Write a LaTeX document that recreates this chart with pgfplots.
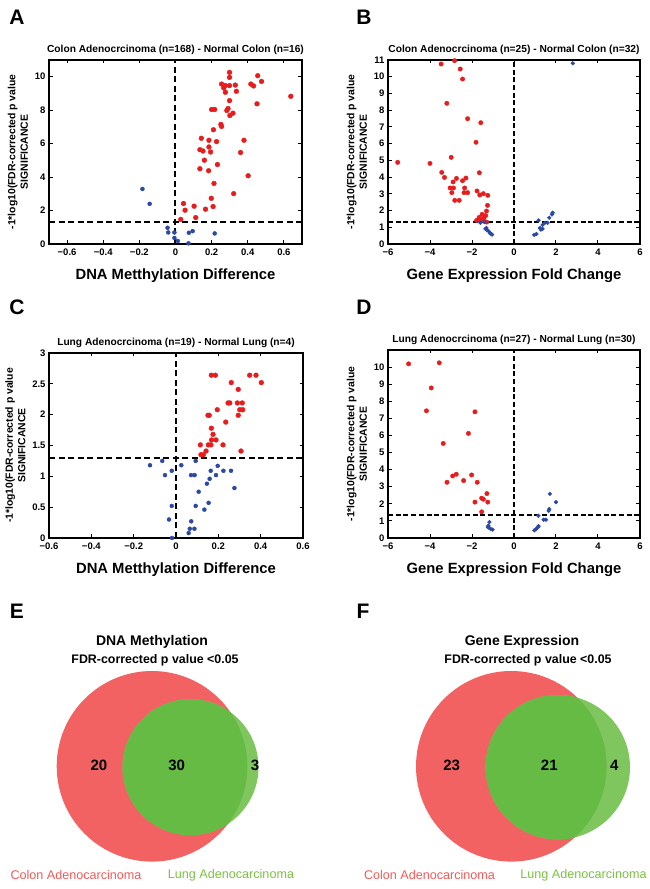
\documentclass[border=0pt]{standalone}
\usepackage{fontspec}
\setmainfont{Liberation Sans}
\usepackage{pgfplots}
\pgfplotsset{compat=1.18}
\definecolor{pred}{RGB}{232,28,28}
\definecolor{pblue}{RGB}{44,72,165}
\definecolor{vred}{RGB}{242,98,98}
\definecolor{vgreen}{RGB}{102,187,68}
\definecolor{vlgreen}{RGB}{128,198,94}
\definecolor{tred}{RGB}{240,90,90}
\definecolor{tgreen}{RGB}{122,193,67}
\pgfplotsset{volc/.style={
  scale only axis, anchor=south west,
  axis line style={line width=2pt},
  tick align=inside, major tick length=3.5pt,
  tick style={black, line width=1pt},
  /pgf/number format/assume math mode=true,
  ticklabel style={font=\bfseries\fontsize{9.5}{10}\selectfont},
  xticklabel style={yshift=-1.5pt},
  title style={font=\bfseries\fontsize{10.2}{11}\selectfont, yshift=-4pt},
  xlabel style={font=\bfseries\fontsize{14.8}{16}\selectfont, yshift=-6pt},
  ylabel style={font=\bfseries\fontsize{10.4}{12.5}\selectfont, align=center},
  ylabel={-1*log10(FDR-corrected p value\\SIGNIFICANCE},
  clip=false},
  redpt/.style={only marks, mark=*, mark size=2.4pt, color=pred},
  bluept/.style={only marks, mark=*, mark size=2.0pt, color=pblue},
  dline/.style={black, line width=2pt, dash pattern=on 6pt off 3.5pt},
  dlineb/.style={black, line width=1.5pt, dash pattern=on 5pt off 2.7pt}
}
\begin{document}
\begin{tikzpicture}[x=1pt,y=1pt]
\useasboundingbox (0,0) rectangle (650,889);
% Panel letters
\node[font=\bfseries\fontsize{21}{21}\selectfont] at (17,872) {A};
\node[font=\bfseries\fontsize{21}{21}\selectfont] at (364,872) {B};
\node[font=\bfseries\fontsize{21}{21}\selectfont] at (17,582) {C};
\node[font=\bfseries\fontsize{21}{21}\selectfont] at (364,582) {D};
\node[font=\bfseries\fontsize{21}{21}\selectfont] at (17,278) {E};
\node[font=\bfseries\fontsize{21}{21}\selectfont] at (363,278) {F};

% ---------- A ----------
\begin{axis}[volc, at={(49pt,645pt)}, width=253pt, height=184pt,
  xmin=-0.7, xmax=0.7, ymin=0, ymax=11,
  xtick={-0.6,-0.4,-0.2,0,0.2,0.4,0.6}, ytick={0,2,4,6,8,10},
  xticklabels={−0.6,−0.4,−0.2,0,0.2,0.4,0.6},
  title={Colon Adenocrcinoma (n=168) - Normal Colon (n=16)},
  xlabel={DNA Metthylation Difference}]
\addplot[dline] coordinates {(0,0) (0,11)};
\addplot[dline] coordinates {(-0.7,1.3) (0.7,1.3)};
\addplot[redpt] coordinates {
(0.299,10.26) (0.299,9.96) (0.255,9.56) (0.276,9.47) (0.299,9.47) (0.331,9.50)
(0.267,9.33) (0.276,9.07) (0.337,9.13) (0.455,10.06) (0.476,9.72) (0.417,9.56)
(0.432,9.45) (0.638,8.83) (0.299,8.57) (0.451,8.38) (0.200,8.04) (0.217,8.04)
(0.284,7.98) (0.291,8.10) (0.318,7.82) (0.301,7.68) (0.251,7.15) (0.255,7.03)
(0.210,6.83) (0.143,6.32) (0.185,6.20) (0.227,6.12) (0.379,6.20) (0.135,5.64)
(0.152,5.56) (0.185,5.80) (0.194,5.50) (0.360,5.47) (0.160,5.01) (0.232,4.75)
(0.135,4.50) (0.183,4.38) (0.402,4.08) (0.213,3.62) (0.322,3.01) (0.198,2.73)
(0.044,2.42) (0.053,2.02) (0.103,2.26) (0.166,2.08) (0.208,2.24) (0.029,1.47)
(0.112,1.58)};
\addplot[bluept] coordinates {
(-0.183,3.29) (-0.143,2.40) (-0.044,0.97) (-0.040,0.69) (-0.006,0.69) (-0.006,0.36)
(0.013,0.18) (0.074,0.67) (0.095,0.77) (0.072,0.04) (0.217,0.63)};
\end{axis}

% ---------- B ----------
\begin{axis}[volc, at={(388pt,645pt)}, width=252pt, height=184pt,
  xmin=-6, xmax=6, ymin=0, ymax=11,
  xtick={-6,-4,-2,0,2,4,6}, ytick={0,1,...,11},
  xticklabels={−6,−4,−2,0,2,4,6},
  axis line style={line width=1.5pt},
  title={Colon Adenocrcinoma (n=25) - Normal Colon (n=32)},
  xlabel={Gene Expression Fold Change}]
\addplot[dlineb] coordinates {(0,0) (0,11)};
\addplot[dlineb] coordinates {(-6,1.3) (6,1.3)};
\addplot[redpt, mark size=2.2pt] coordinates {
(-3.47,10.76) (-2.83,10.96) (-2.56,10.46) (-2.45,9.86) (-3.20,8.41) (-2.21,7.49)
(-1.58,7.25) (-1.81,6.08) (-2.99,5.18) (-5.54,4.88) (-4.00,4.82) (-3.44,4.28)
(-3.31,3.98) (-2.74,3.92) (-2.90,3.71) (-2.45,3.78) (-2.29,3.94) (-1.65,4.26)
(-3.04,3.35) (-2.88,3.35) (-2.35,3.35) (-2.96,3.07) (-2.38,3.07) (-2.21,3.07)
(-1.76,3.17) (-1.63,2.93) (-1.46,3.01) (-1.25,2.91) (-2.82,2.61) (-2.61,2.61)
(-1.26,2.31) (-1.31,1.97) (-1.52,1.77) (-1.66,1.59) (-1.41,1.61) (-1.78,1.41)
(-1.49,1.39) (-1.30,1.31) (-1.55,1.45) (-1.45,1.50) (-1.35,1.70) (-1.70,1.45)};
\addplot[bluept, mark size=1.9pt] coordinates {
(2.80,10.80) (-1.60,1.27) (-1.41,1.31) (-1.36,0.90) (-1.28,0.82) (-1.20,0.76)
(-1.15,0.66) (-1.04,0.56) (-1.09,0.60) (-1.31,0.96) (0.96,0.54) (1.07,0.60)
(1.17,1.41) (1.23,0.96) (1.36,1.14) (1.28,0.86) (1.36,0.90) (1.47,1.26)
(1.60,1.26) (1.68,1.57) (1.81,1.77) (1.84,1.87)};
\end{axis}

% ---------- C ----------
\begin{axis}[volc, at={(49pt,351pt)}, width=254pt, height=185pt,
  xmin=-0.6, xmax=0.6, ymin=0, ymax=3,
  xtick={-0.6,-0.4,-0.2,0,0.2,0.4,0.6}, ytick={0,0.5,...,3},
  xticklabels={−0.6,−0.4,−0.2,0,0.2,0.4,0.6},
  title={Lung Adenocrcinoma (n=19) - Normal Lung (n=4)},
  xlabel={DNA Metthylation Difference}]
\addplot[dline] coordinates {(0,0) (0,3)};
\addplot[dline] coordinates {(-0.6,1.3) (0.6,1.3)};
\addplot[redpt] coordinates {
(0.167,2.64) (0.186,2.64) (0.348,2.64) (0.378,2.64) (0.261,2.52) (0.403,2.52)
(0.294,2.41) (0.246,2.19) (0.254,2.19) (0.290,2.19) (0.313,2.19) (0.301,2.08)
(0.315,2.08) (0.195,2.08) (0.294,1.99) (0.151,1.99) (0.157,1.99) (0.235,1.88)
(0.167,1.78) (0.175,1.68) (0.168,1.59) (0.189,1.59) (0.115,1.51) (0.153,1.51)
(0.165,1.51) (0.222,1.51) (0.142,1.41) (0.307,1.41) (0.118,1.35) (0.129,1.35)};
\addplot[bluept] coordinates {
(-0.123,1.18) (-0.065,1.25) (-0.020,1.09) (0.025,1.18) (-0.052,1.02) (0.093,1.25)
(0.071,1.02) (0.088,1.02) (0.164,1.09) (0.224,1.09) (0.260,1.09) (0.197,1.17)
(0.189,1.02) (0.159,0.96) (0.146,0.88) (0.276,0.81) (0.107,0.75) (-0.020,0.52)
(0.093,0.52) (0.154,0.57) (0.134,0.46) (-0.033,0.30) (0.072,0.27) (0.065,0.15)
(0.087,0.15) (0.060,0.08) (-0.019,0.00)};
\end{axis}

% ---------- D ----------
\begin{axis}[volc, at={(388pt,351pt)}, width=252pt, height=188pt,
  xmin=-6, xmax=6, ymin=0, ymax=11,
  xtick={-6,-4,-2,0,2,4,6}, ytick={0,1,...,10},
  xticklabels={−6,−4,−2,0,2,4,6},
  axis line style={line width=1.5pt},
  title={Lung Adenocrcinoma (n=27) - Normal Lung (n=30)},
  xlabel={Gene Expression Fold Change}]
\addplot[dlineb] coordinates {(0,0) (0,11)};
\addplot[dlineb] coordinates {(-6,1.35) (6,1.35)};
\addplot[redpt, mark size=2.2pt] coordinates {
(-5.02,10.19) (-3.56,10.25) (-3.94,8.78) (-4.17,7.44) (-1.86,7.38) (-2.17,6.12)
(-3.37,5.53) (-3.19,3.26) (-2.92,3.63) (-2.75,3.73) (-2.40,3.36) (-2.02,3.69)
(-1.75,3.26) (-1.29,2.60) (-1.54,2.33) (-1.46,2.27) (-1.86,2.10) (-1.25,2.10)
(-1.54,1.53)};
\addplot[bluept, mark size=1.9pt] coordinates {
(-1.17,0.93) (-1.25,0.64) (-1.17,0.58) (-1.10,0.52) (-1.02,0.49) (-1.22,0.72)
(0.97,0.45) (1.05,0.52) (1.13,0.62) (1.17,0.70) (1.16,1.30) (1.41,1.07)
(1.52,1.07) (1.65,1.59) (1.68,1.69) (1.71,2.58) (2.00,2.10)};
\end{axis}

% ---------- Venn E and F ----------
\begin{axis}[at={(0pt,0pt)}, anchor=south west, scale only axis,
  width=650pt, height=300pt, xmin=0, xmax=650, ymin=0, ymax=300,
  hide axis, clip=false]
\addplot[draw=none] coordinates {(0,0) (650,300)};
% E
\fill[vred] (axis cs:152,122.7) circle[radius=95.3pt];
\fill[vlgreen] (axis cs:190.5,121.8) circle[radius=68pt];
\begin{scope}
\clip (axis cs:152,122.7) circle[radius=95.3pt];
\fill[vgreen] (axis cs:190.5,121.8) circle[radius=68pt];
\end{scope}
% F
\fill[vred] (axis cs:511.3,122.7) circle[radius=95.3pt];
\fill[vlgreen] (axis cs:557.8,121.8) circle[radius=72.2pt];
\begin{scope}
\clip (axis cs:511.3,122.7) circle[radius=95.3pt];
\fill[vgreen] (axis cs:557.8,121.8) circle[radius=72.2pt];
\end{scope}
% texts
\node[font=\bfseries\fontsize{14}{15}\selectfont] at (axis cs:152,247) {DNA Methylation};
\node[font=\bfseries\fontsize{12.4}{13}\selectfont] at (axis cs:155,229) {FDR-corrected p value <0.05};
\node[font=\bfseries\fontsize{14}{15}\selectfont] at (axis cs:522,247) {Gene Expression};
\node[font=\bfseries\fontsize{12.4}{13}\selectfont] at (axis cs:528,229) {FDR-corrected p value <0.05};
\node[font=\bfseries\fontsize{15}{16}\selectfont] at (axis cs:99,123.3) {20};
\node[font=\bfseries\fontsize{15}{16}\selectfont] at (axis cs:176.7,123.3) {30};
\node[font=\bfseries\fontsize{15}{16}\selectfont] at (axis cs:255,123.3) {3};
\node[font=\bfseries\fontsize{15}{16}\selectfont] at (axis cs:451.7,123.3) {23};
\node[font=\bfseries\fontsize{15}{16}\selectfont] at (axis cs:549.3,123.3) {21};
\node[font=\bfseries\fontsize{15}{16}\selectfont] at (axis cs:614.3,123.3) {4};
\node[text=tred, font=\fontsize{12.6}{14}\selectfont] at (axis cs:76,14) {Colon Adenocarcinoma};
\node[text=tgreen, font=\fontsize{12.6}{14}\selectfont] at (axis cs:231,14) {Lung Adenocarcinoma};
\node[text=tred, font=\fontsize{12.6}{14}\selectfont] at (axis cs:429.5,14) {Colon Adenocarcinoma};
\node[text=tgreen, font=\fontsize{12.6}{14}\selectfont] at (axis cs:583.5,14) {Lung Adenocarcinoma};
\end{axis}
\end{tikzpicture}
\end{document}
